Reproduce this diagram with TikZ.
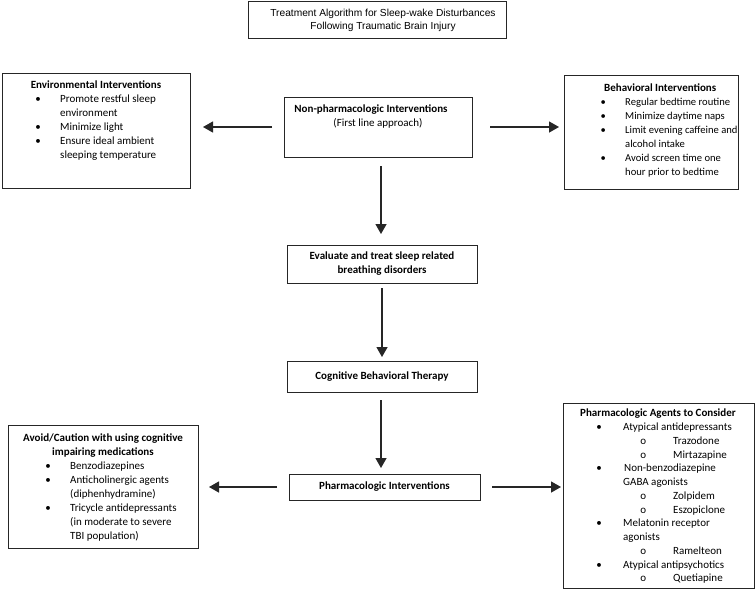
\documentclass[tikz,border=0pt]{standalone}
\usepackage{fontspec}
\setmainfont{Carlito}
\newfontfamily\arialf{Liberation Sans}
\usetikzlibrary{arrows.meta,calc}
\newcommand{\Bu}{\makebox[0pt]{•}\hspace*{22pt}}
\newcommand{\Cu}{\hspace*{22pt}}
\newcommand{\Bv}{\makebox[0pt]{•}\hspace*{24pt}}
\newcommand{\Cv}{\hspace*{24pt}}
\newcommand{\Dv}{\hspace*{44pt}\makebox[0pt]{o}\hspace*{30pt}}
\begin{document}
\begin{tikzpicture}[x=1pt,y=-1pt,
  bx/.style={draw=black!85, line width=0.9pt, inner sep=0pt, outer sep=0pt, anchor=north west},
  arr/.style={draw=black!85, line width=1.3pt, -{Triangle[length=10pt,width=11pt]}},
  txt/.style={inner sep=0pt, anchor=base west, font=\fontsize{11}{14}\selectfont},
  ttl/.style={inner sep=0pt, anchor=base, font=\fontsize{11}{14}\selectfont\bfseries, align=center},
  ctr/.style={font=\fontsize{11}{14}\selectfont\bfseries, align=center},
]
\useasboundingbox (0,0) rectangle (755,598);
\fill[white] (0,0) rectangle (755,598);

% title
\node[bx, minimum width=258pt, minimum height=37pt, align=center,
      font=\arialf\fontsize{10.2}{13}\selectfont] (title) at (248,1.5)
  {\rule{12pt}{0pt}Treatment Algorithm for Sleep-wake Disturbances\\\rule{12pt}{0pt}Following Traumatic Brain Injury\rule[-2pt]{0pt}{0pt}};

% boxes
\node[bx, minimum width=188pt, minimum height=60pt] (np) at (284,97) {};
\node[bx, minimum width=188pt, minimum height=115pt] (env) at (2,73) {};
\node[bx, minimum width=174pt, minimum height=114pt] (beh) at (564,75) {};
\node[bx, minimum width=190pt, minimum height=38pt, ctr] (eval) at (287,245)
  {Evaluate and treat sleep related\\breathing disorders};
\node[bx, minimum width=190pt, minimum height=31pt, ctr] (cbt) at (287,361)
  {Cognitive Behavioral Therapy};
\node[bx, minimum width=191pt, minimum height=26pt, ctr] (pharm) at (289,474)
  {Pharmacologic Interventions};
\node[bx, minimum width=190pt, minimum height=123pt] (avoid) at (8,425) {};
\node[bx, minimum width=191pt, minimum height=185pt] (agents) at (563,403) {};

% texts
\node[ttl] (npt) at (378,126.5)
  {Non-pharmacologic Interventions\rule{14pt}{0pt}\\{\mdseries (First line approach)}};

\node[ttl] (envt) at (96,88.5) {Environmental Interventions};
\node[txt] (envl) at (38,102.5) {\parbox[t]{200pt}{\raggedright
  \Bu Promote restful sleep\\
  \Cu environment\\
  \Bu Minimize light\\
  \Bu Ensure ideal ambient\\
  \Cu sleeping temperature}};

\node[ttl, anchor=base west] (beht) at (604,91.5) {Behavioral Interventions};
\node[txt, font=\fontsize{10.6}{14}\selectfont] (behl) at (603,105.5) {\parbox[t]{200pt}{\raggedright
  \Bu Regular bedtime routine\\
  \Bu Minimize daytime naps\\
  \Bu Limit evening caffeine and\\
  \Cu alcohol intake\\
  \Bu Avoid screen time one\\
  \Cu hour prior to bedtime}};

\node[ttl] (avoidt) at (103,455.5) {Avoid/Caution with using cognitive\\impairing medications};
\node[txt] (avoidl) at (48,469.5) {\parbox[t]{200pt}{\raggedright
  \Bu Benzodiazepines\\
  \Bu Anticholinergic agents\\
  \Cu (diphenhydramine)\\
  \Bu Tricycle antidepressants\\
  \Cu (in moderate to severe\\
  \Cu TBI population)}};

\node[ttl] (agentst) at (658,416.5) {Pharmacologic Agents to Consider};
\node[txt, font=\fontsize{11}{13.75}\selectfont] (agentsl) at (599,430.5) {\parbox[t]{200pt}{\raggedright
  \Bv Atypical antidepressants\\
  \Dv Trazodone\\
  \Dv Mirtazapine\\
  \Bv \hspace*{1pt}Non-benzodiazepine\\
  \Cv GABA agonists\\
  \Dv Zolpidem\\
  \Dv Eszopiclone\\
  \Bv Melatonin receptor\\
  \Cv agonists\\
  \Dv Ramelteon\\
  \Bv Atypical antipsychotics\\
  \Dv Quetiapine}};

% arrows
\draw[arr] ([xshift=-12pt]np.west) -- ([xshift=13pt]np.west -| env.east);
\draw[arr] ([xshift=18pt]np.east) -- ([xshift=-5pt]np.east -| beh.west);
\draw[arr] ($(eval.north |- np.south)+(-1,9)$) -- ($(eval.north)+(-1,-11)$);
\draw[arr] ($(eval.south)+(0,5)$) -- ($(eval.south |- cbt.north)+(0,-4)$);
\draw[arr] ($(cbt.south)+(-1,8)$) -- ($(cbt.south |- pharm.north)+(-1,-6)$);
\draw[arr] ([xshift=-12pt]pharm.west) -- ([xshift=11pt]pharm.west -| avoid.east);
\draw[arr] ([xshift=12pt]pharm.east) -- ([xshift=-2pt]pharm.east -| agents.west);
\end{tikzpicture}
\end{document}
